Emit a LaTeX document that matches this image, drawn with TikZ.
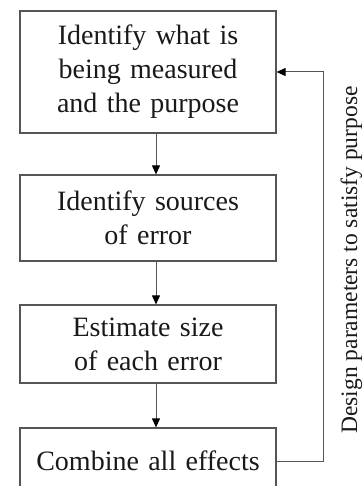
\documentclass[tikz,border=0pt]{standalone}
\usepackage{fontspec}
\setmainfont{Liberation Serif}
\usetikzlibrary{arrows.meta}
\definecolor{linegray}{RGB}{85,85,85}
\definecolor{textgray}{RGB}{25,25,25}
\tikzset{
	stepbox/.style={draw=linegray, line width=1.2pt, text=textgray, minimum width=256pt, text width=244pt, align=center, inner sep=0pt, font=\fontsize{28}{34}\selectfont},
	flow/.style={draw=linegray, line width=1pt, -{Triangle[length=9pt,width=8pt,color=black]}}
}
\begin{document}
\begin{tikzpicture}[x=1pt,y=-1pt]

	\useasboundingbox (0,0) rectangle (363,486);
	\clip (0,0) rectangle (363,486);

	\node[stepbox, minimum height=122pt] (measure) at (148,72) {Identify what is\\being measured\\and the purpose};
	\node[stepbox, minimum height=86pt] (sources) at (148,218) {Identify sources\\of error};
	\node[stepbox, minimum height=78pt] (size) at (148,344) {Estimate size\\of each error};
	\node[stepbox, minimum height=66pt] (combine) at (148,461) {Combine all effects};

	\coordinate (turn) at (323,461);
	\node[rotate=90, anchor=base, inner sep=0pt, text=textgray, font=\fontsize{23.5}{28}\selectfont] (purpose) at (357,260) {Design parameters to satisfy purpose};

	\draw[flow] ([xshift=8pt]measure.south) -- ([xshift=8pt]sources.north);
	\draw[flow] ([xshift=8pt]sources.south) -- ([xshift=8pt]size.north);
	\draw[flow] ([xshift=8pt]size.south) -- ([xshift=8pt]combine.north);
	\draw[flow] (combine.east) -- (turn) |- (measure.east);

\end{tikzpicture}
\end{document}
